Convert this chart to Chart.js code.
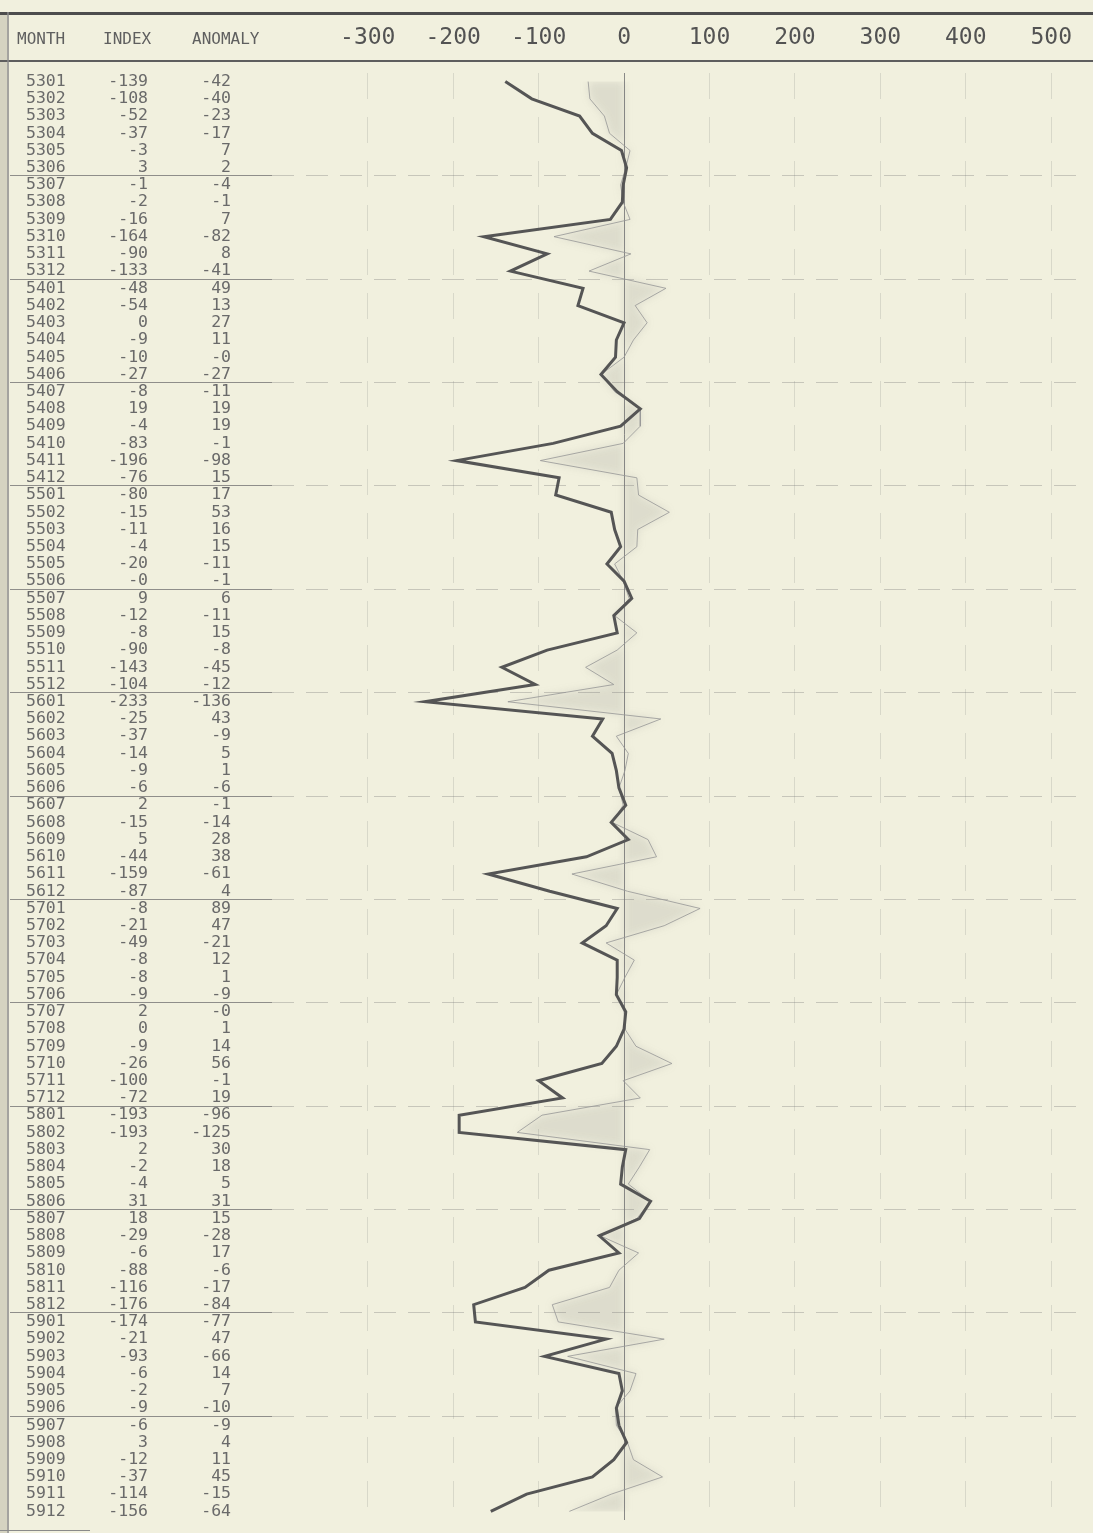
<!DOCTYPE html>
<html>
<head>
<meta charset="utf-8">
<title>Monthly index and anomaly, 1953–1959</title>
<script src="https://cdn.jsdelivr.net/npm/chart.js@4/dist/chart.umd.min.js"></script>
<style>
  html, body { margin: 0; padding: 0; background: #f1f0de; }
  #wrap { position: relative; width: 1093px; height: 1533px; }
</style>
</head>
<body>
<div id="wrap"><canvas id="chart"></canvas></div>
<script>
// Month codes (YYMM) and the two monthly series
const months = [
  '5301','5302','5303','5304','5305','5306','5307','5308','5309','5310','5311','5312',
  '5401','5402','5403','5404','5405','5406','5407','5408','5409','5410','5411','5412',
  '5501','5502','5503','5504','5505','5506','5507','5508','5509','5510','5511','5512',
  '5601','5602','5603','5604','5605','5606','5607','5608','5609','5610','5611','5612',
  '5701','5702','5703','5704','5705','5706','5707','5708','5709','5710','5711','5712',
  '5801','5802','5803','5804','5805','5806','5807','5808','5809','5810','5811','5812',
  '5901','5902','5903','5904','5905','5906','5907','5908','5909','5910','5911','5912'
];

const indexValues = [
  -139, -108, -52, -37, -3, 3, -1, -2, -16, -164, -90, -133,
  -48, -54, 0, -9, -10, -27, -8, 19, -4, -83, -196, -76,
  -80, -15, -11, -4, -20, -0, 9, -12, -8, -90, -143, -104,
  -233, -25, -37, -14, -9, -6, 2, -15, 5, -44, -159, -87,
  -8, -21, -49, -8, -8, -9, 2, 0, -9, -26, -100, -72,
  -193, -193, 2, -2, -4, 31, 18, -29, -6, -88, -116, -176,
  -174, -21, -93, -6, -2, -9, -6, 3, -12, -37, -114, -156
];

const anomalyValues = [
  -42, -40, -23, -17, 7, 2, -4, -1, 7, -82, 8, -41,
  49, 13, 27, 11, -0, -27, -11, 19, 19, -1, -98, 15,
  17, 53, 16, 15, -11, -1, 6, -11, 15, -8, -45, -12,
  -136, 43, -9, 5, 1, -6, -1, -14, 28, 38, -61, 4,
  89, 47, -21, 12, 1, -9, -0, 1, 14, 56, -1, 19,
  -96, -125, 30, 18, 5, 31, 15, -28, 17, -6, -17, -84,
  -77, 47, -66, 14, 7, -10, -9, 4, 11, 45, -15, -64
];

const xTickValues = [-300, -200, -100, 0, 100, 200, 300, 400, 500];
const columnHeaders = ['MONTH', 'INDEX', 'ANOMALY'];

const MONO = '"DejaVu Sans Mono", "Liberation Mono", monospace';
const PAPER = '#f1f0de';

// keep the printed "-0" entries
const fmt = v => (Object.is(v, -0) ? '-0' : String(v));

// Paper, frame, ruled table and soft shading behind the anomaly trace
const sheetPlugin = {
  id: 'sheet',
  beforeDraw(chart) {
    const ctx = chart.ctx;
    ctx.save();
    ctx.fillStyle = PAPER;
    ctx.fillRect(0, 0, chart.width, chart.height);
    // worn left margin
    ctx.fillStyle = 'rgba(160,158,140,0.35)';
    ctx.fillRect(0, 12, 7, chart.height - 12);
    ctx.restore();
  },
  beforeDatasetsDraw(chart) {
    const ctx = chart.ctx;
    const y = chart.scales.y;
    const area = chart.chartArea;
    ctx.save();
    for (let k = 6; k < months.length; k += 6) {
      const py = Math.round((y.getPixelForValue(k - 1) + y.getPixelForValue(k)) / 2) - 0.5;
      // solid rule under the table block
      ctx.strokeStyle = 'rgba(110,110,110,0.75)';
      ctx.lineWidth = 1;
      ctx.setLineDash([]);
      ctx.beginPath();
      ctx.moveTo(10, py);
      ctx.lineTo(272, py);
      ctx.stroke();
      // dashed rule across the plot
      ctx.strokeStyle = 'rgba(120,120,120,0.35)';
      ctx.setLineDash([22, 12]);
      ctx.beginPath();
      ctx.moveTo(272, py);
      ctx.lineTo(area.right, py);
      ctx.stroke();
    }
    ctx.restore();
    // the filler paints the anomaly shading next; soften it
    chart.ctx.filter = 'blur(4px)';
  },
  beforeDatasetDraw(chart) {
    chart.ctx.filter = 'none';
  },
  afterDraw(chart) {
    const ctx = chart.ctx;
    const y = chart.scales.y;
    ctx.save();
    ctx.filter = 'none';
    ctx.setLineDash([]);

    // top edge and header rule
    ctx.strokeStyle = '#4d4d4d';
    ctx.lineWidth = 3;
    ctx.beginPath();
    ctx.moveTo(0, 13.5);
    ctx.lineTo(chart.width, 13.5);
    ctx.stroke();
    ctx.strokeStyle = '#5e5e5e';
    ctx.lineWidth = 2;
    ctx.beginPath();
    ctx.moveTo(0, 61);
    ctx.lineTo(chart.width, 61);
    ctx.stroke();

    // left frame line
    ctx.strokeStyle = '#8a8a8a';
    ctx.lineWidth = 1.5;
    ctx.beginPath();
    ctx.moveTo(8, 12);
    ctx.lineTo(8, chart.height);
    ctx.stroke();
    // short foot rule
    ctx.lineWidth = 1;
    ctx.beginPath();
    ctx.moveTo(0, 1530.5);
    ctx.lineTo(90, 1530.5);
    ctx.stroke();

    // column headers
    ctx.fillStyle = '#5f5f5f';
    ctx.font = '16px ' + MONO;
    ctx.textBaseline = 'middle';
    ctx.textAlign = 'left';
    ctx.fillText(columnHeaders[0], 17, 40);
    ctx.fillText(columnHeaders[1], 103, 40);
    ctx.fillText(columnHeaders[2], 192, 40);

    // table body
    ctx.fillStyle = '#6a6a6a';
    ctx.font = '16.5px ' + MONO;
    months.forEach((m, i) => {
      const py = y.getPixelForValue(i);
      ctx.textAlign = 'left';
      ctx.fillText(m, 26, py);
      ctx.textAlign = 'right';
      ctx.fillText(fmt(indexValues[i]), 148, py);
      ctx.fillText(fmt(anomalyValues[i]), 231, py);
    });
    ctx.restore();
  }
};

new Chart(document.getElementById('chart'), {
  type: 'line',
  data: {
    labels: months,
    datasets: [
      {
        label: 'INDEX',
        data: indexValues,
        borderColor: '#555555',
        borderWidth: 3,
        pointRadius: 0,
        tension: 0,
        fill: false,
        clip: 6
      },
      {
        label: 'ANOMALY',
        data: anomalyValues,
        borderColor: 'rgba(150,150,150,0.8)',
        borderWidth: 1,
        pointRadius: 0,
        tension: 0,
        fill: 'origin',
        backgroundColor: 'rgba(110,110,110,0.15)',
        clip: 6
      }
    ]
  },
  options: {
    indexAxis: 'y',
    responsive: true,
    maintainAspectRatio: false,
    animation: false,
    devicePixelRatio: 1,
    layout: { padding: { top: 0, right: 0, bottom: 13, left: 0 } },
    plugins: {
      legend: { display: false },
      tooltip: { enabled: false }
    },
    scales: {
      x: {
        type: 'linear',
        position: 'top',
        min: -391,
        max: 543,
        afterBuildTicks: scale => {
          scale.ticks = xTickValues.map(v => ({ value: v }));
        },
        afterFit: scale => { scale.height = 73; },
        ticks: {
          autoSkip: false,
          maxRotation: 0,
          padding: 21,
          color: '#535353',
          font: { family: MONO, size: 23 },
          callback: v => String(v)
        },
        grid: {
          drawTicks: false,
          lineWidth: 1,
          color: c => (c.tick && c.tick.value === 0) ? 'rgba(125,125,125,0.9)' : 'rgba(120,120,120,0.2)'
        },
        border: {
          display: false,
          dash: c => (c.tick && c.tick.value === 0) ? [] : [26, 18]
        }
      },
      y: {
        type: 'category',
        offset: true,
        afterFit: scale => { scale.width = 290; },
        ticks: { display: false },
        grid: { display: false },
        border: { display: false }
      }
    }
  },
  plugins: [sheetPlugin]
});
</script>
</body>
</html>
